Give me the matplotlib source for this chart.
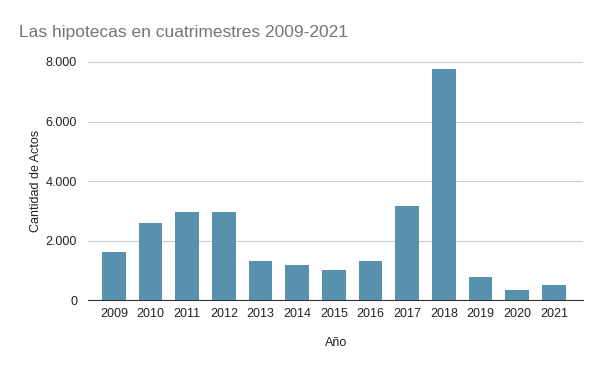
import matplotlib
matplotlib.use("Agg")
import matplotlib.pyplot as plt
from matplotlib.ticker import FuncFormatter

years = ["2009", "2010", "2011", "2012", "2013", "2014", "2015",
         "2016", "2017", "2018", "2019", "2020", "2021"]
actos = [1610, 2580, 2975, 2975, 1310, 1165, 1005,
         1310, 3155, 7775, 770, 335, 505]

plt.rcParams['font.family'] = ['Liberation Sans', 'DejaVu Sans']

fig = plt.figure(figsize=(6, 3.71), dpi=100)
ax = fig.add_axes([0.147, 0.191, 0.825, 0.642])

x = range(len(years))
ax.bar(x, actos, width=0.65, color='#5891ad', zorder=3)

ax.set_xlim(-0.7, len(years) - 0.2)
ax.set_ylim(0, 8000)
ax.set_yticks([0, 2000, 4000, 6000, 8000])
ax.yaxis.set_major_formatter(FuncFormatter(lambda v, p: f"{int(v):,}".replace(",", ".")))
ax.set_xticks(list(x))
ax.set_xticklabels(years)

ax.grid(axis='y', color='#cccccc', linewidth=0.8, zorder=0)
for s in ['top', 'right', 'left']:
    ax.spines[s].set_visible(False)
ax.spines['bottom'].set_color('#333333')
ax.tick_params(axis='both', length=0, labelsize=9, colors='#222222')
ax.tick_params(axis='x', pad=6)
ax.tick_params(axis='y', pad=8)

ax.set_xlabel("Año", fontsize=9, color='#222222', labelpad=12)
ax.set_ylabel("Cantidad de Actos", fontsize=9, color='#222222', labelpad=3)

fig.text(0.032, 0.913, "Las hipotecas en cuatrimestres 2009-2021",
         fontsize=12.5, color='#757575', va='center')

fig.savefig("out.png", dpi=100)
